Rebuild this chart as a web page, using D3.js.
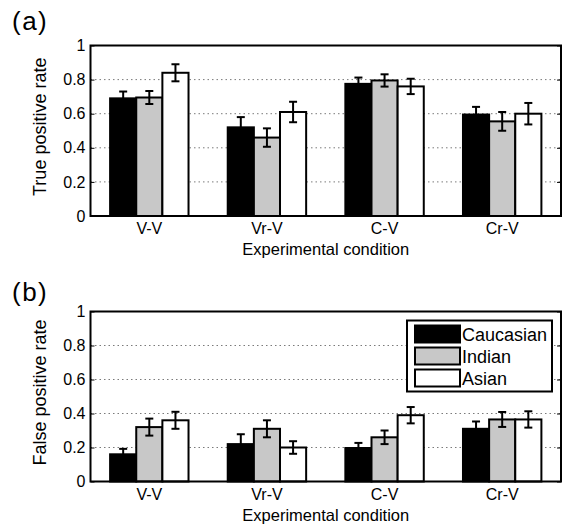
<!DOCTYPE html>
<html>
<head>
<meta charset="utf-8">
<script src="https://cdn.jsdelivr.net/npm/d3@7"></script>
<style>
  body { margin: 0; background: #fff; }
  svg text { font-family: "Liberation Sans", Arial, Helvetica, sans-serif; fill: #000; }
</style>
</head>
<body>
<svg id="chart" width="564" height="528"></svg>
<script>
// data
const categories = ["V-V", "Vr-V", "C-V", "Cr-V"];
const groups = ["Caucasian", "Indian", "Asian"];
const groupColors = ["#000000", "#c8c8c8", "#ffffff"];
const yTicks = [0, 0.2, 0.4, 0.6, 0.8, 1];

// (a) true positive rate
const tprCaucasian = [0.69, 0.52, 0.775, 0.595];
const tprIndian = [0.695, 0.46, 0.795, 0.555];
const tprAsian = [0.84, 0.61, 0.76, 0.60];
const tprErrCaucasian = [0.04, 0.06, 0.037, 0.045];
const tprErrIndian = [0.038, 0.054, 0.036, 0.055];
const tprErrAsian = [0.05, 0.06, 0.045, 0.063];

// (b) false positive rate
const fprCaucasian = [0.16, 0.22, 0.197, 0.31];
const fprIndian = [0.32, 0.31, 0.26, 0.365];
const fprAsian = [0.36, 0.20, 0.39, 0.365];
const fprErrCaucasian = [0.032, 0.058, 0.03, 0.043];
const fprErrIndian = [0.05, 0.05, 0.04, 0.044];
const fprErrAsian = [0.05, 0.037, 0.048, 0.048];

const svg = d3.select("#chart");
const left = 90.5, right = 561;

let x0 = d3.scaleBand().domain(categories).range([left, right])
    .paddingInner(1 / 3).paddingOuter(1 / 6);
let x1 = d3.scaleBand().domain(groups).range([0, x0.bandwidth()]);
let color = d3.scaleOrdinal().domain(groups).range(groupColors);

function drawPanel(top, bottom, tag, tagY, yLabel, means, errs, withLegend) {
    let y = d3.scaleLinear().domain([0, 1]).range([bottom, top]);
    let g = svg.append("g");

    // dotted grid
    g.selectAll("line.grid")
        .data(yTicks.filter(t => t > 0 && t < 1))
        .enter().append("line")
        .attr("x1", left).attr("x2", right)
        .attr("y1", d => y(d)).attr("y2", d => y(d))
        .attr("stroke", "#7a7a7a")
        .attr("stroke-width", 1)
        .attr("stroke-dasharray", "1.5,3");

    // rows = one per category, holding the three group values
    let rows = categories.map((c, i) => ({
        cat: c,
        vals: groups.map((s, j) => ({ s: s, v: means[j][i], e: errs[j][i] }))
    }));

    let cat = g.selectAll("g.cat").data(rows).enter().append("g")
        .attr("transform", d => "translate(" + x0(d.cat) + ",0)");

    cat.selectAll("rect").data(d => d.vals).enter().append("rect")
        .attr("x", d => x1(d.s))
        .attr("width", x1.bandwidth())
        .attr("y", d => y(d.v))
        .attr("height", d => y(0) - y(d.v))
        .attr("fill", d => color(d.s))
        .attr("stroke", "#000")
        .attr("stroke-width", 2);

    // error bars
    let eb = cat.selectAll("g.eb").data(d => d.vals).enter().append("g")
        .attr("stroke", "#000").attr("stroke-width", 2);
    let cx = d => x1(d.s) + x1.bandwidth() / 2;
    eb.append("line")
        .attr("x1", cx).attr("x2", cx)
        .attr("y1", d => y(d.v - d.e)).attr("y2", d => y(d.v + d.e));
    eb.append("line")
        .attr("x1", d => cx(d) - 4).attr("x2", d => cx(d) + 4)
        .attr("y1", d => y(d.v + d.e)).attr("y2", d => y(d.v + d.e));
    eb.append("line")
        .attr("x1", d => cx(d) - 4).attr("x2", d => cx(d) + 4)
        .attr("y1", d => y(d.v - d.e)).attr("y2", d => y(d.v - d.e));

    // axes box
    g.append("rect")
        .attr("x", left).attr("y", top)
        .attr("width", right - left).attr("height", bottom - top)
        .attr("fill", "none").attr("stroke", "#000").attr("stroke-width", 2);

    let yAxis = d3.axisLeft(y).tickValues(yTicks).tickFormat(d3.format("~g"))
        .tickSizeInner(-4).tickSizeOuter(0).tickPadding(5);
    let ya = g.append("g").attr("transform", "translate(" + left + ",0)").call(yAxis);
    ya.select(".domain").remove();
    ya.selectAll("text").style("font-size", "16px");

    let yAxisR = d3.axisRight(y).tickValues(yTicks).tickFormat("")
        .tickSizeInner(-4).tickSizeOuter(0);
    let yr = g.append("g").attr("transform", "translate(" + right + ",0)").call(yAxisR);
    yr.select(".domain").remove();

    let xAxis = d3.axisBottom(x0).tickSize(0).tickPadding(7);
    let xa = g.append("g").attr("transform", "translate(0," + bottom + ")").call(xAxis);
    xa.select(".domain").remove();
    xa.selectAll("text").style("font-size", "16px");

    g.append("text")
        .attr("x", (left + right) / 2).attr("y", bottom + 39)
        .attr("text-anchor", "middle")
        .style("font-size", "16.5px")
        .text("Experimental condition");

    g.append("text")
        .attr("transform", "translate(46," + ((top + bottom) / 2 - 4) + ") rotate(-90)")
        .attr("text-anchor", "middle")
        .style("font-size", "18px")
        .text(yLabel);

    svg.append("text")
        .attr("x", 12).attr("y", tagY)
        .style("font-size", "26px")
        .style("letter-spacing", "1.5px")
        .text(tag);

    if (withLegend) {
        let lg = g.append("g");
        lg.append("rect")
            .attr("x", 407).attr("y", top + 9)
            .attr("width", 145).attr("height", 71)
            .attr("fill", "#fff").attr("stroke", "#000").attr("stroke-width", 2);
        let item = lg.selectAll("g.item").data(groups).enter().append("g")
            .attr("transform", (d, i) => "translate(415," + (top + 14 + i * 22) + ")");
        item.append("rect")
            .attr("width", 45).attr("height", 17)
            .attr("fill", d => color(d))
            .attr("stroke", "#000").attr("stroke-width", 2);
        item.append("text")
            .attr("x", 47).attr("y", 9)
            .attr("dy", "0.35em")
            .style("font-size", "18px")
            .text(d => d);
    }
}

drawPanel(45.5, 216, "(a)", 30, "True positive rate",
    [tprCaucasian, tprIndian, tprAsian],
    [tprErrCaucasian, tprErrIndian, tprErrAsian], false);

drawPanel(311.5, 481.5, "(b)", 301, "False positive rate",
    [fprCaucasian, fprIndian, fprAsian],
    [fprErrCaucasian, fprErrIndian, fprErrAsian], true);
</script>
</body>
</html>
